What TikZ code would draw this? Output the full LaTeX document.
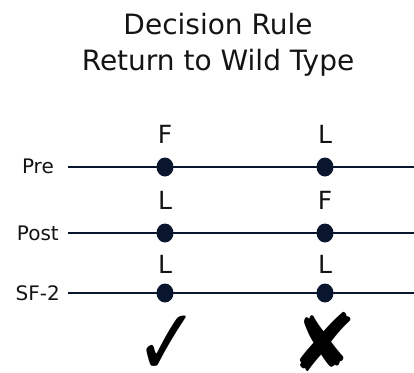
\documentclass[tikz,border=0pt]{standalone}
\usepackage{fontspec}
\setmainfont{DejaVu Sans}
\usetikzlibrary{shapes.geometric}
\definecolor{navy}{RGB}{10,22,46}
\definecolor{ink}{RGB}{20,20,20}
\tikzset{
  title/.style={anchor=base, inner sep=0pt, text=ink, font=\fontsize{28}{34}\selectfont},
  rowlabel/.style={anchor=base east, inner sep=0pt, text=ink, font=\fontsize{20}{24}\selectfont},
  letter/.style={anchor=base, inner sep=0pt, text=ink, font=\fontsize{25}{30}\selectfont},
  dot/.style={ellipse, fill=navy, draw=none, minimum width=17pt, minimum height=19pt, inner sep=0pt},
  rule/.style={draw=navy, line width=2pt},
  verdict/.style={anchor=center, inner sep=0pt, text=black, font=\fontsize{80}{90}\selectfont}
}
\begin{document}
\begin{tikzpicture}[x=1pt, y=-1pt]
\useasboundingbox (0,0) rectangle (414,372);
% title
\node[title] (t1) at (218,34) {Decision Rule};
\node[title] (t2) at (218,70) {Return to Wild Type};
% row labels
\node[rowlabel] (pre) at (54,173) {Pre};
\node[rowlabel] (post) at (59,240) {Post};
\node[rowlabel] (sf) at (60,300) {SF-2};
% line endpoints
\coordinate (preS) at (68,167);
\coordinate (preE) at (414,167);
\coordinate (postS) at (68,233);
\coordinate (postE) at (414,233);
\coordinate (sfS) at (68,293);
\coordinate (sfE) at (414,293);
\draw[rule] (preS) -- (preE);
\draw[rule] (postS) -- (postE);
\draw[rule] (sfS) -- (sfE);
% dots
\node[dot] (d11) at (165,167) {};
\node[dot] (d12) at (325,167) {};
\node[dot] (d21) at (165,233) {};
\node[dot] (d22) at (325,233) {};
\node[dot] (d31) at (165,293) {};
\node[dot] (d32) at (325,293) {};
% letters
\node[letter] (l11) at (165,143) {F};
\node[letter] (l12) at (325,143) {L};
\node[letter] (l21) at (165,209) {L};
\node[letter] (l22) at (325,209) {F};
\node[letter] (l31) at (165,273) {L};
\node[letter] (l32) at (325,273) {L};
% verdicts
\node[verdict] (ok) at (167,346) {\scalebox{0.95}[1.18]{✓}};
\node[verdict] (no) at (324,342) {✘};
\end{tikzpicture}
\end{document}
